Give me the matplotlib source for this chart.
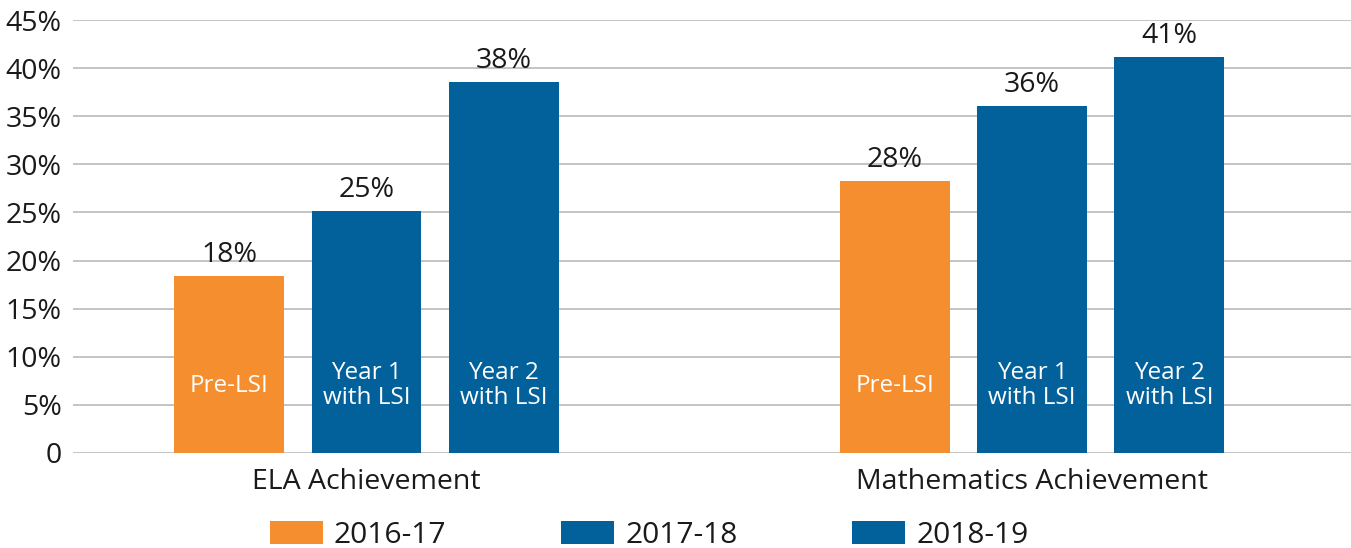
import numpy as np
import matplotlib.pyplot as plt

plt.rcParams['font.family'] = ['Open Sans', 'DejaVu Sans']

groups = ["ELA Achievement", "Mathematics Achievement"]
years = ["2016-17", "2017-18", "2018-19"]
values = {
    "2016-17": [18.4, 28.3],
    "2017-18": [25.2, 36.1],
    "2018-19": [38.6, 41.2],
}
value_labels = {
    "2016-17": ["18%", "28%"],
    "2017-18": ["25%", "36%"],
    "2018-19": ["38%", "41%"],
}
inner_labels = ["Pre-LSI", "Year 1\nwith LSI", "Year 2\nwith LSI"]
colors = ["#F58E2E", "#02619A", "#02619A"]
yticks = [0, 5, 10, 15, 20, 25, 30, 35, 40, 45]
ytick_labels = ["0", "5%", "10%", "15%", "20%", "25%", "30%", "35%", "40%", "45%"]

fig = plt.figure(figsize=(13.51, 5.48), dpi=100)
ax = fig.add_axes([0.054, 0.1734, 0.946, 0.7901])

x = np.arange(len(groups))
width = 0.165
step = 0.206

for i, yr in enumerate(years):
    pos = x + (i - 1) * step
    bars = ax.bar(pos, values[yr], width, color=colors[i], label=yr, zorder=3)
    for b, lab in zip(bars, value_labels[yr]):
        ax.annotate(lab, (b.get_x() + b.get_width() / 2, b.get_height()),
                    xytext=(0, 5), textcoords="offset points",
                    ha="center", va="bottom", fontsize=20.5, color="#1a1a1a")
        ax.text(b.get_x() + b.get_width() / 2, 7.0, inner_labels[i],
                ha="center", va="center", fontsize=17.5, color="white",
                linespacing=1.05, zorder=4)

ax.set_xlim(-0.441, 1.479)
ax.set_ylim(0, 45)
ax.set_yticks(yticks)
ax.set_yticklabels(ytick_labels)
ax.set_xticks(x)
ax.set_xticklabels(groups)
ax.tick_params(axis="y", length=0, pad=8, labelsize=20.5, labelcolor="#1a1a1a")
ax.tick_params(axis="x", length=0, pad=11, labelsize=20.5, labelcolor="#1a1a1a")
ax.grid(axis="y", color="#BFBFBF", linewidth=1.3, zorder=0)
for s in ax.spines.values():
    s.set_visible(False)

ax.legend(loc="center", bbox_to_anchor=(0.4805, 0.023), bbox_transform=fig.transFigure,
          ncol=3, frameon=False, fontsize=21.5, handlelength=1.77, handleheight=0.8,
          handletextpad=0.37, columnspacing=3.85, labelcolor="#1a1a1a",
          borderpad=0.2)

fig.savefig("out.png", dpi=100)
